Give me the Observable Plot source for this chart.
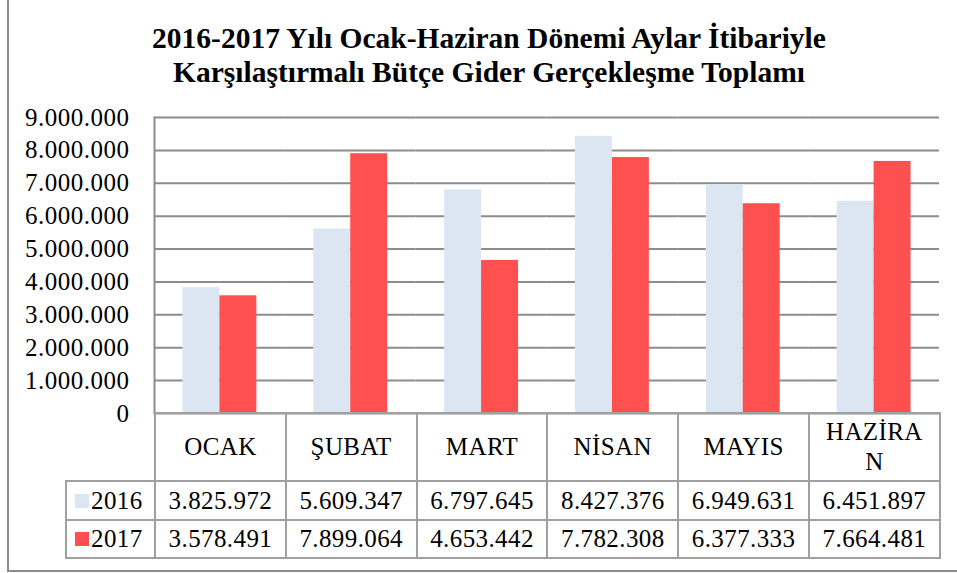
<!DOCTYPE html>
<html><head><meta charset="utf-8">
<script src="https://cdn.jsdelivr.net/npm/d3@7"></script>
<script src="https://cdn.jsdelivr.net/npm/@observablehq/plot@0.6"></script>
<style>
body{margin:0;background:#fff;font-family:"Liberation Serif","Times New Roman",serif;color:#000}
#wrap{position:relative;width:957px;height:573px;overflow:hidden;background:#fff}
#border{position:absolute;left:7px;top:-5px;width:960px;height:577px;border-left:2px solid #8c8c8c;border-bottom:2px solid #8c8c8c;box-sizing:border-box}
#title{position:absolute;left:39px;width:900px;top:21px;text-align:center;font-family:"Liberation Serif","Times New Roman",serif;font-weight:bold;font-size:29.5px;line-height:34px}
#chart{position:absolute;left:0;top:0}
#tbl{position:absolute;left:65px;top:412px;border-collapse:collapse;table-layout:fixed;font-family:"Liberation Serif","Times New Roman",serif;font-size:25px;letter-spacing:0.4px}
#tbl td{border:2px solid #a0a0a0;text-align:center;padding:0;vertical-align:middle;font-family:"Liberation Serif","Times New Roman",serif}
#tbl td.blank{border-left:none;border-top:none}
#tbl tr.head td{height:66px;line-height:30px;padding:0 12px;word-break:break-all}
#tbl tr.r1 td{height:37px}
#tbl tr.r2 td{height:36px}
#tbl td.leg{text-align:left;padding-left:8px;white-space:nowrap}
.sw{display:inline-block;width:14px;height:14px;margin-right:2px;vertical-align:1px}
#chart svg text{font-family:"Liberation Serif","Times New Roman",serif;letter-spacing:0.5px}
</style></head>
<body><div id="wrap"><div id="border"></div><div id="title"></div><div id="chart"></div><table id="tbl"></table></div>
<script>
const titleLines = ["2016-2017 Yılı Ocak-Haziran Dönemi Aylar İtibariyle","Karşılaştırmalı Bütçe Gider Gerçekleşme Toplamı"];
const months = ["OCAK","ŞUBAT","MART","NİSAN","MAYIS","HAZİRAN"];
const years = ["2016","2017"];
const v2016 = [3825972,5609347,6797645,8427376,6949631,6451897];
const v2017 = [3578491,7899064,4653442,7782308,6377333,7664481];
const yTicks = [0,1000000,2000000,3000000,4000000,5000000,6000000,7000000,8000000,9000000];
const colors = ["#dce6f2","#ff5050"];

const fmt = v => d3.format(",")(v).replace(/,/g,".");
const series = [v2016, v2017];
const data = months.flatMap((m,i)=>years.map((y,j)=>({month:m, year:y, value:series[j][i]})));

document.getElementById("title").innerHTML = titleLines.join("<br>");

const chart = Plot.plot({
  width:957, height:420,
  marginLeft:154, marginRight:18, marginTop:117, marginBottom:7,
  fx:{domain:months, padding:0, round:false, axis:null},
  x:{domain:years, paddingInner:0, paddingOuter:0.77, round:false, axis:null},
  y:{domain:[0,9000000]},
  color:{domain:years, range:colors},
  style:{fontFamily:"'Liberation Serif', 'Times New Roman', serif", fontSize:"25px", color:"#000", background:"transparent", overflow:"visible"},
  marks:[
    Plot.gridY(yTicks,{stroke:"#8c8c8c", strokeOpacity:1, strokeWidth:2}),
    Plot.barY(data,{fx:"month", x:"year", y:"value", fill:"year"}),
    Plot.frame({anchor:"left", facetAnchor:"left", stroke:"#8c8c8c", strokeWidth:2}),
    Plot.axisY(yTicks,{tickSize:0, tickPadding:25, tickFormat:fmt, fontSize:25, fill:"#000", label:null, facetAnchor:"left"})
  ]
});
document.getElementById("chart").appendChild(chart);

// data table below the chart
const tbl = document.getElementById("tbl");
let html = '<colgroup><col style="width:89px">' + months.map(()=> '<col style="width:130.8px">').join("") + '</colgroup>';
html += '<tr class="head"><td class="blank"></td>' + months.map(m=>`<td>${m}</td>`).join("") + '</tr>';
years.forEach((y,j)=>{
  html += `<tr class="r${j+1}"><td class="leg"><span class="sw" style="background:${colors[j]}"></span>${y}</td>` + series[j].map(v=>`<td>${fmt(v)}</td>`).join("") + '</tr>';
});
tbl.innerHTML = html;
</script>
</body></html>
